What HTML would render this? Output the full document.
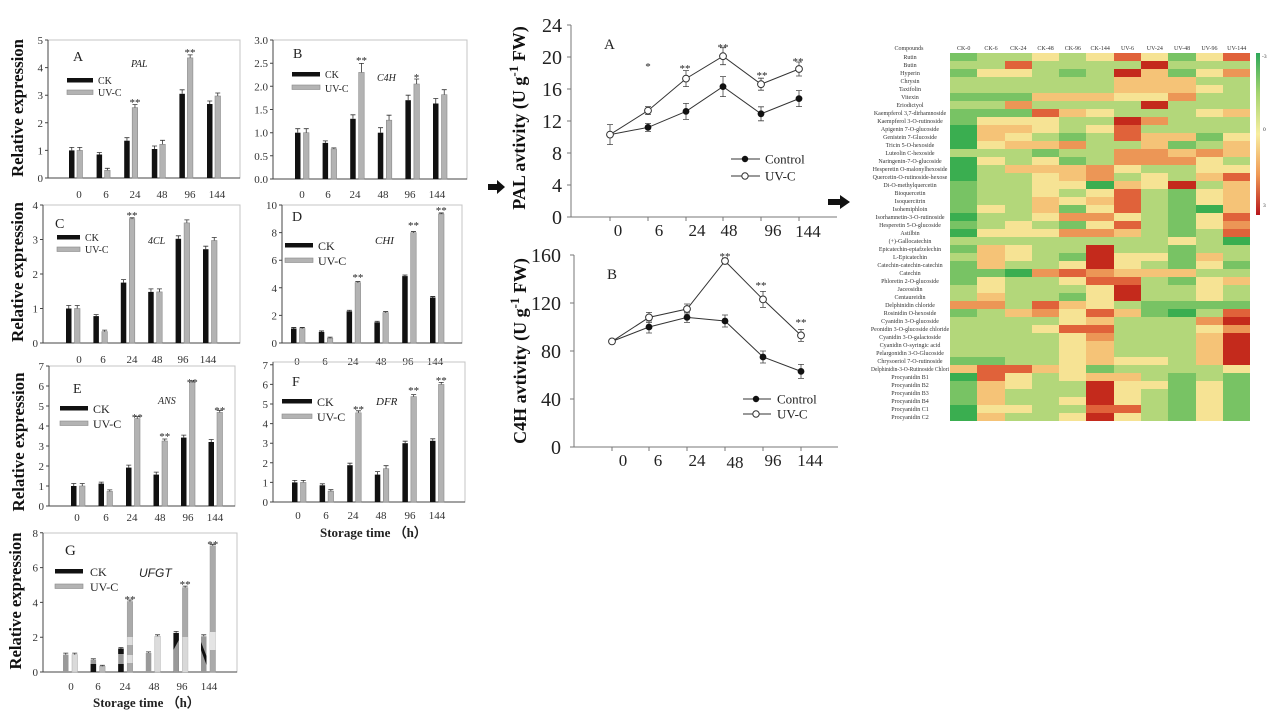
<!DOCTYPE html>
<html><head><meta charset="utf-8"><style>
html,body{margin:0;padding:0;background:#fff}
#w{position:relative;width:1268px;height:710px;overflow:hidden;background:#fff}
svg{position:absolute;left:0;top:0}
#hm{position:absolute;left:950px;top:53px;display:grid;grid-template-columns:repeat(11,27.3px);grid-template-rows:repeat(46,8px)}
#hm i{display:block}
.G{background:#3aae50}.M{background:#78c364}.L{background:#b3d77a}.Y{background:#f6e394}.P{background:#f5c377}.O{background:#ec9656}.r{background:#e0623a}.d{background:#c42a1c}
</style></head><body><div id="w">
<div id="hm">
<i class=M></i><i class=L></i><i class=L></i><i class=Y></i><i class=L></i><i class=Y></i><i class=r></i><i class=Y></i><i class=M></i><i class=Y></i><i class=r></i>
<i class=L></i><i class=L></i><i class=r></i><i class=L></i><i class=L></i><i class=L></i><i class=L></i><i class=d></i><i class=L></i><i class=L></i><i class=L></i>
<i class=M></i><i class=Y></i><i class=Y></i><i class=L></i><i class=M></i><i class=L></i><i class=d></i><i class=P></i><i class=M></i><i class=Y></i><i class=O></i>
<i class=L></i><i class=L></i><i class=L></i><i class=L></i><i class=L></i><i class=L></i><i class=P></i><i class=P></i><i class=P></i><i class=L></i><i class=L></i>
<i class=L></i><i class=L></i><i class=L></i><i class=L></i><i class=L></i><i class=L></i><i class=P></i><i class=P></i><i class=P></i><i class=Y></i><i class=L></i>
<i class=M></i><i class=M></i><i class=M></i><i class=P></i><i class=P></i><i class=P></i><i class=Y></i><i class=Y></i><i class=O></i><i class=L></i><i class=L></i>
<i class=L></i><i class=L></i><i class=O></i><i class=L></i><i class=L></i><i class=L></i><i class=L></i><i class=d></i><i class=L></i><i class=L></i><i class=L></i>
<i class=M></i><i class=M></i><i class=M></i><i class=r></i><i class=P></i><i class=Y></i><i class=L></i><i class=L></i><i class=L></i><i class=Y></i><i class=P></i>
<i class=M></i><i class=Y></i><i class=Y></i><i class=Y></i><i class=L></i><i class=L></i><i class=d></i><i class=O></i><i class=L></i><i class=L></i><i class=L></i>
<i class=G></i><i class=P></i><i class=P></i><i class=Y></i><i class=L></i><i class=Y></i><i class=r></i><i class=L></i><i class=L></i><i class=L></i><i class=L></i>
<i class=G></i><i class=P></i><i class=Y></i><i class=L></i><i class=M></i><i class=L></i><i class=r></i><i class=P></i><i class=P></i><i class=M></i><i class=Y></i>
<i class=G></i><i class=Y></i><i class=P></i><i class=P></i><i class=O></i><i class=L></i><i class=L></i><i class=P></i><i class=M></i><i class=L></i><i class=P></i>
<i class=L></i><i class=L></i><i class=L></i><i class=M></i><i class=L></i><i class=L></i><i class=O></i><i class=O></i><i class=P></i><i class=O></i><i class=P></i>
<i class=G></i><i class=Y></i><i class=L></i><i class=Y></i><i class=M></i><i class=L></i><i class=O></i><i class=O></i><i class=O></i><i class=Y></i><i class=L></i>
<i class=G></i><i class=L></i><i class=P></i><i class=P></i><i class=P></i><i class=O></i><i class=Y></i><i class=L></i><i class=L></i><i class=Y></i><i class=Y></i>
<i class=G></i><i class=L></i><i class=L></i><i class=Y></i><i class=P></i><i class=O></i><i class=L></i><i class=Y></i><i class=L></i><i class=P></i><i class=r></i>
<i class=M></i><i class=L></i><i class=L></i><i class=Y></i><i class=Y></i><i class=G></i><i class=P></i><i class=Y></i><i class=d></i><i class=L></i><i class=P></i>
<i class=M></i><i class=L></i><i class=L></i><i class=Y></i><i class=L></i><i class=Y></i><i class=r></i><i class=L></i><i class=M></i><i class=Y></i><i class=P></i>
<i class=M></i><i class=L></i><i class=L></i><i class=P></i><i class=Y></i><i class=P></i><i class=r></i><i class=L></i><i class=M></i><i class=Y></i><i class=P></i>
<i class=M></i><i class=Y></i><i class=L></i><i class=P></i><i class=M></i><i class=Y></i><i class=r></i><i class=L></i><i class=M></i><i class=G></i><i class=P></i>
<i class=G></i><i class=L></i><i class=L></i><i class=Y></i><i class=O></i><i class=O></i><i class=Y></i><i class=L></i><i class=M></i><i class=Y></i><i class=r></i>
<i class=M></i><i class=L></i><i class=Y></i><i class=L></i><i class=M></i><i class=Y></i><i class=r></i><i class=L></i><i class=M></i><i class=Y></i><i class=O></i>
<i class=G></i><i class=Y></i><i class=Y></i><i class=Y></i><i class=O></i><i class=O></i><i class=P></i><i class=L></i><i class=M></i><i class=L></i><i class=r></i>
<i class=L></i><i class=L></i><i class=L></i><i class=L></i><i class=L></i><i class=L></i><i class=L></i><i class=L></i><i class=Y></i><i class=L></i><i class=G></i>
<i class=M></i><i class=P></i><i class=Y></i><i class=L></i><i class=L></i><i class=d></i><i class=L></i><i class=L></i><i class=M></i><i class=L></i><i class=L></i>
<i class=L></i><i class=P></i><i class=Y></i><i class=L></i><i class=M></i><i class=d></i><i class=Y></i><i class=Y></i><i class=M></i><i class=P></i><i class=L></i>
<i class=M></i><i class=P></i><i class=L></i><i class=L></i><i class=Y></i><i class=d></i><i class=Y></i><i class=L></i><i class=M></i><i class=Y></i><i class=M></i>
<i class=M></i><i class=M></i><i class=G></i><i class=O></i><i class=r></i><i class=O></i><i class=P></i><i class=P></i><i class=P></i><i class=L></i><i class=L></i>
<i class=M></i><i class=Y></i><i class=L></i><i class=L></i><i class=Y></i><i class=r></i><i class=r></i><i class=L></i><i class=M></i><i class=Y></i><i class=P></i>
<i class=L></i><i class=Y></i><i class=L></i><i class=L></i><i class=L></i><i class=Y></i><i class=d></i><i class=L></i><i class=L></i><i class=Y></i><i class=L></i>
<i class=L></i><i class=P></i><i class=L></i><i class=L></i><i class=M></i><i class=Y></i><i class=d></i><i class=L></i><i class=L></i><i class=Y></i><i class=L></i>
<i class=O></i><i class=O></i><i class=L></i><i class=r></i><i class=P></i><i class=Y></i><i class=L></i><i class=M></i><i class=M></i><i class=M></i><i class=M></i>
<i class=M></i><i class=L></i><i class=P></i><i class=O></i><i class=Y></i><i class=r></i><i class=P></i><i class=M></i><i class=G></i><i class=L></i><i class=r></i>
<i class=L></i><i class=L></i><i class=L></i><i class=L></i><i class=Y></i><i class=P></i><i class=L></i><i class=L></i><i class=L></i><i class=O></i><i class=d></i>
<i class=L></i><i class=L></i><i class=L></i><i class=Y></i><i class=r></i><i class=r></i><i class=L></i><i class=L></i><i class=L></i><i class=Y></i><i class=O></i>
<i class=L></i><i class=L></i><i class=L></i><i class=L></i><i class=Y></i><i class=O></i><i class=L></i><i class=L></i><i class=L></i><i class=P></i><i class=d></i>
<i class=L></i><i class=L></i><i class=L></i><i class=L></i><i class=Y></i><i class=P></i><i class=L></i><i class=L></i><i class=L></i><i class=P></i><i class=d></i>
<i class=L></i><i class=L></i><i class=L></i><i class=L></i><i class=Y></i><i class=P></i><i class=L></i><i class=L></i><i class=L></i><i class=P></i><i class=d></i>
<i class=M></i><i class=M></i><i class=L></i><i class=L></i><i class=Y></i><i class=P></i><i class=Y></i><i class=Y></i><i class=L></i><i class=P></i><i class=d></i>
<i class=P></i><i class=r></i><i class=r></i><i class=P></i><i class=Y></i><i class=M></i><i class=L></i><i class=L></i><i class=L></i><i class=L></i><i class=Y></i>
<i class=G></i><i class=r></i><i class=Y></i><i class=L></i><i class=Y></i><i class=P></i><i class=P></i><i class=L></i><i class=M></i><i class=L></i><i class=M></i>
<i class=M></i><i class=P></i><i class=Y></i><i class=L></i><i class=L></i><i class=d></i><i class=Y></i><i class=Y></i><i class=M></i><i class=Y></i><i class=M></i>
<i class=M></i><i class=P></i><i class=L></i><i class=L></i><i class=L></i><i class=d></i><i class=Y></i><i class=L></i><i class=M></i><i class=Y></i><i class=M></i>
<i class=M></i><i class=P></i><i class=L></i><i class=L></i><i class=Y></i><i class=d></i><i class=Y></i><i class=L></i><i class=M></i><i class=Y></i><i class=M></i>
<i class=G></i><i class=Y></i><i class=Y></i><i class=L></i><i class=L></i><i class=r></i><i class=r></i><i class=L></i><i class=M></i><i class=Y></i><i class=M></i>
<i class=G></i><i class=P></i><i class=L></i><i class=L></i><i class=Y></i><i class=d></i><i class=Y></i><i class=L></i><i class=M></i><i class=Y></i><i class=M></i>
</div>
<svg width="1268" height="710" viewBox="0 0 1268 710" font-family="'Liberation Serif',serif" fill="#222">
<defs><linearGradient id="cb" x1="0" y1="0" x2="0" y2="1"><stop offset="0" stop-color="#2ea85a"/><stop offset=".25" stop-color="#a6d570"/><stop offset=".5" stop-color="#f8eea0"/><stop offset=".75" stop-color="#f09a55"/><stop offset="1" stop-color="#b8161c"/></linearGradient></defs>

<!-- ===== Panel A ===== -->
<rect x="48" y="40" width="192" height="138" fill="none" stroke="#c4c4c4"/>
<path d="M48 40V178H240M45 178h3M45 150.4h3M45 122.8h3M45 95.2h3M45 67.6h3M45 40h3" stroke="#444" fill="none"/>
<g font-size="11" text-anchor="end" fill="#333"><text x="43" y="182">0</text><text x="43" y="154.4">1</text><text x="43" y="126.8">2</text><text x="43" y="99.2">3</text><text x="43" y="71.6">4</text><text x="43" y="44">5</text></g>
<g font-size="11" text-anchor="middle" fill="#333"><text x="79" y="198">0</text><text x="106" y="198">6</text><text x="135" y="198">24</text><text x="162" y="198">48</text><text x="190" y="198">96</text><text x="217" y="198">144</text></g>
<g fill="#111"><rect x="69" y="150.4" width="5.5" height="27.6"/><rect x="96.6" y="154.5" width="5.5" height="23.5"/><rect x="124.2" y="140.7" width="5.5" height="37.3"/><rect x="151.8" y="149" width="5.5" height="29"/><rect x="179.4" y="93.8" width="5.5" height="84.2"/><rect x="207" y="104" width="5.5" height="74"/></g>
<g fill="#b3b3b3" stroke="#8a8a8a" stroke-width=".6"><rect x="77" y="150.4" width="5.5" height="27.6"/><rect x="104.6" y="170.3" width="5.5" height="7.7"/><rect x="132.2" y="107.6" width="5.5" height="70.4"/><rect x="159.8" y="144.3" width="5.5" height="33.7"/><rect x="187.4" y="57.9" width="5.5" height="120.1"/><rect x="215" y="96" width="5.5" height="82"/></g>
<path d="M71.75 150.4v-3m-2.5 0h5M99.35 154.5v-2m-2.5 0h5M126.95 140.7v-3m-2.5 0h5M154.55 149v-3m-2.5 0h5M182.15 93.8v-4m-2.5 0h5M209.75 104v-3m-2.5 0h5M79.75 150.4v-3m-2.5 0h5M107.35 170.3v-2m-2.5 0h5M134.95 107.6v-3m-2.5 0h5M162.55 144.3v-4m-2.5 0h5M190.15 57.9v-3m-2.5 0h5M217.75 96v-3m-2.5 0h5" stroke="#333" stroke-width=".8" fill="none"/>
<g font-size="11" text-anchor="middle"><text x="135" y="106">**</text><text x="190" y="56">**</text></g>
<rect x="67" y="78" width="26" height="4.5" fill="#111"/><rect x="67" y="90" width="26" height="4.5" fill="#b3b3b3" stroke="#888" stroke-width=".6"/>
<text x="98" y="84" font-size="10">CK</text><text x="98" y="96" font-size="10">UV-C</text>
<text x="131" y="67" font-size="10" font-style="italic">PAL</text><text x="73" y="61" font-size="14">A</text>

<!-- ===== Panel B ===== -->
<rect x="273" y="40" width="194" height="139" fill="none" stroke="#c4c4c4"/>
<path d="M273 40V179H467M270 179h3M270 155.8h3M270 132.7h3M270 109.5h3M270 86.3h3M270 63.2h3M270 40h3" stroke="#444" fill="none"/>
<g font-size="11" text-anchor="end" fill="#333"><text x="268" y="183">0.0</text><text x="268" y="159.8">0.5</text><text x="268" y="136.7">1.0</text><text x="268" y="113.5">1.5</text><text x="268" y="90.3">2.0</text><text x="268" y="67.2">2.5</text><text x="268" y="44">3.0</text></g>
<g font-size="11" text-anchor="middle" fill="#333"><text x="302" y="198">0</text><text x="328" y="198">6</text><text x="355" y="198">24</text><text x="383" y="198">48</text><text x="410" y="198">96</text><text x="437" y="198">144</text></g>
<g fill="#111"><rect x="295" y="132.7" width="5.5" height="46.3"/><rect x="322.6" y="142.9" width="5.5" height="36.1"/><rect x="350.2" y="118.8" width="5.5" height="60.2"/><rect x="377.8" y="132.7" width="5.5" height="46.3"/><rect x="405.4" y="100.2" width="5.5" height="78.8"/><rect x="433" y="103.5" width="5.5" height="75.5"/></g>
<g fill="#b3b3b3" stroke="#8a8a8a" stroke-width=".6"><rect x="303.5" y="132.7" width="5.5" height="46.3"/><rect x="331.1" y="148.9" width="5.5" height="30.1"/><rect x="358.7" y="72.4" width="5.5" height="106.6"/><rect x="386.3" y="120.2" width="5.5" height="58.8"/><rect x="413.9" y="84" width="5.5" height="95"/><rect x="441.5" y="94.7" width="5.5" height="84.3"/></g>
<path d="M297.75 132.7v-4m-2.5 0h5M325.35 142.9v-2m-2.5 0h5M352.95 118.8v-4m-2.5 0h5M380.55 132.7v-5m-2.5 0h5M408.15 100.2v-5m-2.5 0h5M435.75 103.5v-5m-2.5 0h5M306.25 132.7v-4m-2.5 0h5M333.85 148.9v-1m-2.5 0h5M361.45 72.4v-9m-2.5 0h5M389.05 120.2v-5m-2.5 0h5M416.65 84v-5m-2.5 0h5M444.25 94.7v-5m-2.5 0h5" stroke="#333" stroke-width=".8" fill="none"/>
<g font-size="11" text-anchor="middle"><text x="361.5" y="64">**</text><text x="416.5" y="81">*</text></g>
<rect x="292" y="72" width="28" height="4.5" fill="#111"/><rect x="292" y="85" width="28" height="4.5" fill="#b3b3b3" stroke="#888" stroke-width=".6"/>
<text x="325" y="78" font-size="10">CK</text><text x="325" y="92" font-size="10">UV-C</text>
<text x="377" y="81" font-size="10" font-style="italic">C4H</text><text x="293" y="58" font-size="14">B</text>

<!-- ===== Panel C ===== -->
<rect x="43" y="205" width="197" height="138" fill="none" stroke="#c4c4c4"/>
<path d="M43 205V343H240M40 343h3M40 308.5h3M40 274h3M40 239.5h3M40 205h3" stroke="#444" fill="none"/>
<g font-size="11" text-anchor="end" fill="#333"><text x="38" y="347">0</text><text x="38" y="312.5">1</text><text x="38" y="278">2</text><text x="38" y="243.5">3</text><text x="38" y="209">4</text></g>
<g font-size="11" text-anchor="middle" fill="#333"><text x="79" y="363">0</text><text x="103" y="363">6</text><text x="132" y="363">24</text><text x="157" y="363">48</text><text x="183" y="363">96</text><text x="208" y="363">144</text></g>
<g fill="#111"><rect x="66" y="308.5" width="5.5" height="34.5"/><rect x="93.4" y="316.1" width="5.5" height="26.9"/><rect x="120.8" y="282.6" width="5.5" height="60.4"/><rect x="148.2" y="291.9" width="5.5" height="51.1"/><rect x="175.6" y="238.8" width="5.5" height="104.2"/><rect x="203" y="249.2" width="5.5" height="93.8"/></g>
<g fill="#b3b3b3" stroke="#8a8a8a" stroke-width=".6"><rect x="74.5" y="308.5" width="5.5" height="34.5"/><rect x="101.9" y="331.6" width="5.5" height="11.4"/><rect x="129.3" y="218.8" width="5.5" height="124.2"/><rect x="156.7" y="291.9" width="5.5" height="51.1"/><rect x="184.1" y="222.9" width="5.5" height="120.1"/><rect x="211.5" y="240.5" width="5.5" height="102.5"/></g>
<path d="M68.75 308.5v-3m-2.5 0h5M96.15 316.1v-1.5m-2.5 0h5M123.55 282.6v-3m-2.5 0h5M150.95 291.9v-3m-2.5 0h5M178.35 238.8v-3m-2.5 0h5M205.75 249.2v-3m-2.5 0h5M77.25 308.5v-3m-2.5 0h5M104.65 331.6v-1.5m-2.5 0h5M132.05 218.8v-1m-2.5 0h5M159.45 291.9v-3m-2.5 0h5M186.85 222.9v-3m-2.5 0h5M214.25 240.5v-3m-2.5 0h5" stroke="#333" stroke-width=".8" fill="none"/>
<text x="132" y="219" font-size="11" text-anchor="middle">**</text>
<rect x="57" y="235" width="23" height="4.5" fill="#111"/><rect x="57" y="247" width="23" height="4.5" fill="#b3b3b3" stroke="#888" stroke-width=".6"/>
<text x="85" y="241" font-size="10">CK</text><text x="85" y="253" font-size="10">UV-C</text>
<text x="148" y="244" font-size="10" font-style="italic">4CL</text><text x="55" y="228" font-size="14">C</text>

<!-- ===== Panel D ===== -->
<rect x="282" y="205" width="180" height="138" fill="none" stroke="#c4c4c4"/>
<path d="M282 205V343H462M279 343h3M279 315.4h3M279 287.8h3M279 260.2h3M279 232.6h3M279 205h3" stroke="#444" fill="none"/>
<g font-size="11" text-anchor="end" fill="#333"><text x="277" y="347">0</text><text x="277" y="319.4">2</text><text x="277" y="291.8">4</text><text x="277" y="264.2">6</text><text x="277" y="236.6">8</text><text x="277" y="209">10</text></g>
<g font-size="11" text-anchor="middle" fill="#333"><text x="297" y="365">0</text><text x="325" y="365">6</text><text x="353" y="365">24</text><text x="381" y="365">48</text><text x="408" y="365">96</text><text x="435" y="365">144</text></g>
<g fill="#111"><rect x="291" y="328.5" width="5.5" height="14.5"/><rect x="318.8" y="332" width="5.5" height="11"/><rect x="346.6" y="311.3" width="5.5" height="31.7"/><rect x="374.4" y="322.3" width="5.5" height="20.7"/><rect x="402.2" y="276.1" width="5.5" height="66.9"/><rect x="430" y="297.5" width="5.5" height="45.5"/></g>
<g fill="#b3b3b3" stroke="#8a8a8a" stroke-width=".6"><rect x="299.5" y="328.5" width="5.5" height="14.5"/><rect x="327.3" y="338.2" width="5.5" height="4.8"/><rect x="355.1" y="282.6" width="5.5" height="60.4"/><rect x="382.9" y="312.6" width="5.5" height="30.4"/><rect x="410.7" y="232.6" width="5.5" height="110.4"/><rect x="438.5" y="214" width="5.5" height="129"/></g>
<path d="M293.75 328.5v-1m-2.5 0h5M321.55 332v-1m-2.5 0h5M349.35 311.3v-1m-2.5 0h5M377.15 322.3v-1m-2.5 0h5M404.95 276.1v-1m-2.5 0h5M432.75 297.5v-1m-2.5 0h5M302.25 328.5v-1m-2.5 0h5M330.05 338.2v-1m-2.5 0h5M357.85 282.6v-1m-2.5 0h5M385.65 312.6v-1m-2.5 0h5M413.45 232.6v-1m-2.5 0h5M441.25 214v-1m-2.5 0h5" stroke="#333" stroke-width=".9" fill="none"/>
<g font-size="11" text-anchor="middle"><text x="357.9" y="281">**</text><text x="413.5" y="229">**</text><text x="441.3" y="214">**</text></g>
<rect x="285" y="243" width="28" height="4.5" fill="#111"/><rect x="285" y="258" width="28" height="4.5" fill="#b3b3b3" stroke="#888" stroke-width=".6"/>
<text x="318" y="250" font-size="12">CK</text><text x="318" y="265" font-size="12">UV-C</text>
<text x="375" y="244" font-size="11" font-style="italic">CHI</text><text x="292" y="221" font-size="14">D</text>

<!-- ===== Panel E ===== -->
<rect x="49" y="366" width="186" height="140" fill="none" stroke="#c4c4c4"/>
<path d="M49 366V506H235M46 506h3M46 486h3M46 466h3M46 446h3M46 426h3M46 406h3M46 386h3M46 366h3" stroke="#444" fill="none"/>
<g font-size="11" text-anchor="end" fill="#333"><text x="44" y="510">0</text><text x="44" y="490">1</text><text x="44" y="470">2</text><text x="44" y="450">3</text><text x="44" y="430">4</text><text x="44" y="410">5</text><text x="44" y="390">6</text><text x="44" y="370">7</text></g>
<g font-size="11" text-anchor="middle" fill="#333"><text x="77" y="521">0</text><text x="106" y="521">6</text><text x="132" y="521">24</text><text x="160" y="521">48</text><text x="188" y="521">96</text><text x="215" y="521">144</text></g>
<g fill="#111"><rect x="71" y="486" width="5.5" height="20"/><rect x="98.5" y="483.6" width="5.5" height="22.4"/><rect x="126" y="467.6" width="5.5" height="38.4"/><rect x="153.5" y="474.6" width="5.5" height="31.4"/><rect x="181" y="437.6" width="5.5" height="68.4"/><rect x="208.5" y="442" width="5.5" height="64"/></g>
<g fill="#b3b3b3" stroke="#8a8a8a" stroke-width=".6"><rect x="79.5" y="486" width="5.5" height="20"/><rect x="107" y="491.4" width="5.5" height="14.6"/><rect x="134.5" y="418.6" width="5.5" height="87.4"/><rect x="162" y="441" width="5.5" height="65"/><rect x="189.5" y="382.4" width="5.5" height="123.6"/><rect x="217" y="412.4" width="5.5" height="93.6"/></g>
<path d="M73.75 486v-2.5m-2.5 0h5M101.25 483.6v-1.5m-2.5 0h5M128.75 467.6v-2.5m-2.5 0h5M156.25 474.6v-2.5m-2.5 0h5M183.75 437.6v-2.5m-2.5 0h5M211.25 442v-2.5m-2.5 0h5M82.25 486v-2.5m-2.5 0h5M109.75 491.4v-1.5m-2.5 0h5M137.25 418.6v-2m-2.5 0h5M164.75 441v-2m-2.5 0h5M192.25 382.4v-1.5m-2.5 0h5M219.75 412.4v-2m-2.5 0h5" stroke="#333" stroke-width=".8" fill="none"/>
<g font-size="11" text-anchor="middle"><text x="137.25" y="421">**</text><text x="164.75" y="440">**</text><text x="192.25" y="386">**</text><text x="219.75" y="414">**</text></g>
<rect x="60" y="406" width="28" height="4.5" fill="#111"/><rect x="60" y="421" width="28" height="4.5" fill="#b3b3b3" stroke="#888" stroke-width=".6"/>
<text x="93" y="413" font-size="12">CK</text><text x="93" y="428" font-size="12">UV-C</text>
<text x="158" y="404" font-size="10" font-style="italic">ANS</text><text x="73" y="393" font-size="14">E</text>

<!-- ===== Panel F ===== -->
<rect x="273" y="362" width="192" height="140" fill="none" stroke="#c4c4c4"/>
<path d="M273 362V502H465M270 502h3M270 482.4h3M270 462.8h3M270 443.2h3M270 423.6h3M270 404h3M270 384.4h3M270 364.8h3" stroke="#444" fill="none"/>
<g font-size="11" text-anchor="end" fill="#333"><text x="268" y="506">0</text><text x="268" y="486.4">1</text><text x="268" y="466.8">2</text><text x="268" y="447.2">3</text><text x="268" y="427.6">4</text><text x="268" y="408">5</text><text x="268" y="388.4">6</text><text x="268" y="368.8">7</text></g>
<g font-size="11" text-anchor="middle" fill="#333"><text x="298" y="519">0</text><text x="326" y="519">6</text><text x="353" y="519">24</text><text x="381" y="519">48</text><text x="410" y="519">96</text><text x="437" y="519">144</text></g>
<text x="320" y="537" font-size="13" font-weight="bold">Storage time （h）</text>
<g fill="#111"><rect x="292" y="482.4" width="5.5" height="19.6"/><rect x="319.6" y="485.3" width="5.5" height="16.7"/><rect x="347.2" y="465.2" width="5.5" height="36.8"/><rect x="374.8" y="474.6" width="5.5" height="27.4"/><rect x="402.4" y="443.2" width="5.5" height="58.8"/><rect x="430" y="440.8" width="5.5" height="61.2"/></g>
<g fill="#b3b3b3" stroke="#8a8a8a" stroke-width=".6"><rect x="300.5" y="482.4" width="5.5" height="19.6"/><rect x="328.1" y="491.2" width="5.5" height="10.8"/><rect x="355.7" y="412.8" width="5.5" height="89.2"/><rect x="383.3" y="468.7" width="5.5" height="33.3"/><rect x="410.9" y="396.6" width="5.5" height="105.4"/><rect x="438.5" y="384.4" width="5.5" height="117.6"/></g>
<path d="M294.75 482.4v-2m-2.5 0h5M322.35 485.3v-1.5m-2.5 0h5M349.95 465.2v-2m-2.5 0h5M377.55 474.6v-3m-2.5 0h5M405.15 443.2v-2m-2.5 0h5M432.75 440.8v-2m-2.5 0h5M303.25 482.4v-2m-2.5 0h5M330.85 491.2v-1.5m-2.5 0h5M358.45 412.8v-2m-2.5 0h5M386.05 468.7v-3m-2.5 0h5M413.65 396.6v-2m-2.5 0h5M441.25 384.4v-2m-2.5 0h5" stroke="#333" stroke-width=".8" fill="none"/>
<g font-size="11" text-anchor="middle"><text x="358.45" y="413">**</text><text x="413.65" y="394">**</text><text x="441.25" y="384">**</text></g>
<rect x="282" y="399" width="30" height="4.5" fill="#111"/><rect x="282" y="414" width="30" height="4.5" fill="#b3b3b3" stroke="#888" stroke-width=".6"/>
<text x="317" y="406" font-size="12">CK</text><text x="317" y="421" font-size="12">UV-C</text>
<text x="376" y="405" font-size="11" font-style="italic">DFR</text><text x="292" y="386" font-size="14">F</text>

<!-- ===== Panel G ===== -->
<rect x="43" y="533" width="194" height="139" fill="none" stroke="#c4c4c4"/>
<path d="M43 533V672H237M40 672h3M40 637.2h3M40 602.4h3M40 567.6h3M40 532.8h3" stroke="#444" fill="none"/>
<g font-size="11" text-anchor="end" fill="#333"><text x="38" y="676">0</text><text x="38" y="641.2">2</text><text x="38" y="606.4">4</text><text x="38" y="571.6">6</text><text x="38" y="536.8">8</text></g>
<g font-size="11" text-anchor="middle" fill="#333"><text x="71" y="690">0</text><text x="98" y="690">6</text><text x="125" y="690">24</text><text x="154" y="690">48</text><text x="182" y="690">96</text><text x="209" y="690">144</text></g>
<text x="93" y="707" font-size="13" font-weight="bold">Storage time （h）</text>
<rect x="63" y="654.6" width="5.5" height="17.4" fill="#9a9a9a"/>
<rect x="90.6" y="659.8" width="5.5" height="12.2" fill="#999"/><rect x="90.6" y="664" width="5.5" height="8" fill="#111"/>
<rect x="118.2" y="648.5" width="5.5" height="23.5" fill="#999"/><rect x="118.2" y="648.5" width="5.5" height="5.5" fill="#111"/><rect x="118.2" y="664" width="5.5" height="8" fill="#111"/>
<rect x="145.8" y="652.9" width="5.5" height="19.1" fill="#9a9a9a"/>
<rect x="173.4" y="632.9" width="5.5" height="39.1" fill="#111"/><polygon points="173.4,650 178.9,640 178.9,672 173.4,672" fill="#999"/>
<rect x="201" y="636.3" width="5.5" height="35.7" fill="#999"/><polygon points="201,642 206.5,656 206.5,665 201,650" fill="#111"/>
<rect x="72" y="654.6" width="5.5" height="17.4" fill="#dadada" stroke="#aaa" stroke-width=".5"/>
<rect x="99.6" y="666.3" width="5.5" height="5.7" fill="#bbb" stroke="#999" stroke-width=".5"/>
<rect x="127.2" y="601.5" width="5.5" height="70.5" fill="#aaa" stroke="#999" stroke-width=".5"/><rect x="127.2" y="637" width="5.5" height="8" fill="#ddd"/><rect x="127.2" y="655" width="5.5" height="8" fill="#ddd"/>
<rect x="154.8" y="636.3" width="5.5" height="35.7" fill="#dcdcdc" stroke="#aaa" stroke-width=".5"/>
<rect x="182.4" y="587.6" width="5.5" height="84.4" fill="#aaa" stroke="#999" stroke-width=".5"/><rect x="182.4" y="637" width="5.5" height="35" fill="#d8d8d8"/>
<rect x="210" y="545.8" width="5.5" height="126.2" fill="#aaa" stroke="#999" stroke-width=".5"/><rect x="210" y="632" width="5.5" height="18" fill="#e4e4e4"/>
<path d="M65.75 654.6v-1.5m-2.5 0h5M93.35 659.8v-1m-2.5 0h5M120.95 648.5v-1m-2.5 0h5M148.55 652.9v-1m-2.5 0h5M176.15 632.9v-1.5m-2.5 0h5M203.75 636.3v-1.5m-2.5 0h5M74.75 654.6v-1.5m-2.5 0h5M102.35 666.3v-1m-2.5 0h5M129.95 601.5v-1.5m-2.5 0h5M157.55 636.3v-1.5m-2.5 0h5M185.15 587.6v-1.5m-2.5 0h5M212.75 545.8v-1.5m-2.5 0h5" stroke="#333" stroke-width=".8" fill="none"/>
<g font-size="11" text-anchor="middle"><text x="129.95" y="603">**</text><text x="185.15" y="588">**</text><text x="212.75" y="548">**</text></g>
<rect x="55" y="569" width="28" height="4.5" fill="#111"/><rect x="55" y="584" width="28" height="4.5" fill="#b3b3b3" stroke="#888" stroke-width=".6"/>
<text x="90" y="576" font-size="12">CK</text><text x="90" y="591" font-size="12">UV-C</text>
<text x="139" y="577" font-size="12" font-style="italic" font-family="'Liberation Sans',sans-serif">UFGT</text><text x="65" y="555" font-size="15">G</text>

<!-- Y labels (Relative expression) -->
<g font-size="17" font-weight="bold" text-anchor="middle" fill="#111">
<text transform="translate(23,108) rotate(-90)" textLength="138" lengthAdjust="spacingAndGlyphs">Relative expression</text>
<text transform="translate(23,272) rotate(-90)" textLength="140" lengthAdjust="spacingAndGlyphs">Relative expression</text>
<text transform="translate(24,442) rotate(-90)" textLength="139" lengthAdjust="spacingAndGlyphs">Relative expression</text>
<text transform="translate(21,601) rotate(-90)" textLength="137" lengthAdjust="spacingAndGlyphs">Relative expression</text>
</g>

<!-- ===== PAL line chart ===== -->
<path d="M571 25V217H837M567 217h4M567 185h4M567 153h4M567 121h4M567 89h4M567 57h4M567 25h4M610 217v4M648 217v4M686 217v4M723 217v4M761 217v4M799 217v4" stroke="#777" fill="none"/>
<g font-size="20" text-anchor="end" fill="#222"><text x="562" y="224">0</text><text x="562" y="192">4</text><text x="562" y="160">8</text><text x="562" y="128">12</text><text x="562" y="96">16</text><text x="562" y="64">20</text><text x="562" y="32">24</text></g>
<g font-size="17" text-anchor="middle" fill="#222"><text x="618" y="236">0</text><text x="659" y="236">6</text><text x="697" y="236">24</text><text x="729" y="236">48</text><text x="773" y="236">96</text><text x="808" y="237">144</text></g>
<path d="M610 124.6v20m-3 0h6m-6-20h6M648 123.4v8m-3 0h6m-6-8h6M686 103.4v16m-3 0h6m-6-16h6M723 76.6v20m-3 0h6m-6-20h6M761 106.8v14m-3 0h6m-6-14h6M799 90.6v16m-3 0h6m-6-16h6M648 106.6v8m-3 0h6m-6-8h6M686 70.6v16m-3 0h6m-6-16h6M723 47.7v17m-3 0h6m-6-17h6M761 78.2v12m-3 0h6m-6-12h6M799 62v14m-3 0h6m-6-14h6" stroke="#444" stroke-width=".8" fill="none"/>
<polyline points="610,134.6 648,127.4 686,111.4 723,86.6 761,113.8 799,98.6" fill="none" stroke="#333" stroke-width="1"/>
<polyline points="610,134.6 648,110.6 686,78.6 723,56.2 761,84.2 799,69" fill="none" stroke="#333" stroke-width="1"/>
<g fill="#111"><circle cx="648" cy="127.4" r="3.4"/><circle cx="686" cy="111.4" r="3.4"/><circle cx="723" cy="86.6" r="3.4"/><circle cx="761" cy="113.8" r="3.4"/><circle cx="799" cy="98.6" r="3.4"/></g>
<g fill="#fff" stroke="#333" stroke-width="1"><circle cx="610" cy="134.6" r="3.4"/><circle cx="648" cy="110.6" r="3.4"/><circle cx="686" cy="78.6" r="3.4"/><circle cx="723" cy="56.2" r="3.4"/><circle cx="761" cy="84.2" r="3.4"/><circle cx="799" cy="69" r="3.4"/></g>
<g font-size="11" text-anchor="middle"><text x="648" y="70">*</text><text x="685" y="72">**</text><text x="723" y="51">**</text><text x="762" y="79">**</text><text x="798" y="65">**</text></g>
<text x="604" y="49" font-size="15">A</text>
<path d="M731 159h29M731 176h29" stroke="#333"/><circle cx="745" cy="159" r="3.2" fill="#111"/><circle cx="745" cy="176" r="3.2" fill="#fff" stroke="#333"/>
<text x="765" y="163.5" font-size="13">Control</text><text x="765" y="180.5" font-size="13">UV-C</text>
<text transform="translate(525,118) rotate(-90)" text-anchor="middle" font-size="18" font-weight="bold" fill="#111">PAL avtivity (U g<tspan dy="-7" font-size="13">-1</tspan><tspan dy="7"> FW)</tspan></text>

<!-- ===== C4H line chart ===== -->
<path d="M574 255V447H838M570 447h4M570 399h4M570 351h4M570 303h4M570 255h4M612 447v4M649 447v4M687 447v4M725 447v4M763 447v4M801 447v4" stroke="#777" fill="none"/>
<g font-size="20" text-anchor="end" fill="#222"><text x="561" y="454">0</text><text x="561" y="406">40</text><text x="561" y="358">80</text><text x="561" y="310">120</text><text x="561" y="262">160</text></g>
<g font-size="17" text-anchor="middle" fill="#222"><text x="623" y="466">0</text><text x="658" y="466">6</text><text x="697" y="466">24</text><text x="735" y="468">48</text><text x="773" y="466">96</text><text x="810" y="466">144</text></g>
<path d="M649 321v12m-3 0h6m-6-12h6M687 312.4v10m-3 0h6m-6-10h6M725 315v12m-3 0h6m-6-12h6M763 351v12m-3 0h6m-6-12h6M801 364.4v14m-3 0h6m-6-14h6M649 312.4v10m-3 0h6m-6-10h6M687 304v10m-3 0h6m-6-10h6M725 258v6m-3 0h6m-6-6h6M763 291.4v16m-3 0h6m-6-16h6M801 329.4v12m-3 0h6m-6-12h6" stroke="#444" stroke-width=".8" fill="none"/>
<polyline points="612,341.4 649,327 687,317.4 725,321 763,357 801,371.4" fill="none" stroke="#333" stroke-width="1"/>
<polyline points="612,341.4 649,317.4 687,309 725,261 763,299.4 801,335.4" fill="none" stroke="#333" stroke-width="1"/>
<g fill="#111"><circle cx="649" cy="327" r="3.4"/><circle cx="687" cy="317.4" r="3.4"/><circle cx="725" cy="321" r="3.4"/><circle cx="763" cy="357" r="3.4"/><circle cx="801" cy="371.4" r="3.4"/></g>
<g fill="#fff" stroke="#333" stroke-width="1"><circle cx="612" cy="341.4" r="3.4"/><circle cx="649" cy="317.4" r="3.4"/><circle cx="687" cy="309" r="3.4"/><circle cx="725" cy="261" r="3.4"/><circle cx="763" cy="299.4" r="3.4"/><circle cx="801" cy="335.4" r="3.4"/></g>
<g font-size="11" text-anchor="middle"><text x="725" y="260">**</text><text x="761" y="289">**</text><text x="801" y="326">**</text></g>
<text x="607" y="279" font-size="15">B</text>
<path d="M743 399h28M743 414h28" stroke="#333"/><circle cx="756" cy="399" r="3.2" fill="#111"/><circle cx="756" cy="414" r="3.2" fill="#fff" stroke="#333"/>
<text x="777" y="403.5" font-size="13">Control</text><text x="777" y="418.5" font-size="13">UV-C</text>
<text transform="translate(526,351) rotate(-90)" text-anchor="middle" font-size="18" font-weight="bold" fill="#111">C4H avtivity (U g<tspan dy="-7" font-size="13">-1</tspan><tspan dy="7"> FW)</tspan></text>

<!-- arrows -->
<polygon points="488,184 497,184 497,180 505,187 497,194 497,190 488,190" fill="#111"/>
<polygon points="828,199 840,199 840,195 850,202 840,209 840,205 828,205" fill="#111"/>

<!-- ===== Heatmap labels ===== -->
<g font-size="6" text-anchor="middle" fill="#333">
<text x="909" y="50">Compounds</text>
<text x="963.7" y="50">CK-0</text><text x="991" y="50">CK-6</text><text x="1018.3" y="50">CK-24</text><text x="1045.6" y="50">CK-48</text><text x="1072.9" y="50">CK-96</text><text x="1100.2" y="50">CK-144</text><text x="1127.5" y="50">UV-6</text><text x="1154.8" y="50">UV-24</text><text x="1182.1" y="50">UV-48</text><text x="1209.4" y="50">UV-96</text><text x="1236.7" y="50">UV-144</text>
<text x="910" y="59">Rutin</text>
<text x="910" y="67">Butin</text>
<text x="910" y="75">Hyperin</text>
<text x="910" y="83">Chrysin</text>
<text x="910" y="91">Taxifolin</text>
<text x="910" y="99">Vitexin</text>
<text x="910" y="107">Eriodictyol</text>
<text x="910" y="115">Kaempferol 3,7-dirhamnoside</text>
<text x="910" y="123">Kaempferol 3-O-rutinoside</text>
<text x="910" y="131">Apigenin 7-O-glucoside</text>
<text x="910" y="139">Genistein 7-Glucoside</text>
<text x="910" y="147">Tricin 5-O-hexoside</text>
<text x="910" y="155">Luteolin C-hexoside</text>
<text x="910" y="163">Naringenin-7-O-glucoside</text>
<text x="910" y="171">Hesperetin O-malonylhexoside</text>
<text x="910" y="179">Quercetin-O-rutinoside-hexose</text>
<text x="910" y="187">Di-O-methylquercetin</text>
<text x="910" y="195">Bioquercetin</text>
<text x="910" y="203">Isoquercitrin</text>
<text x="910" y="211">Isohemiphloin</text>
<text x="910" y="219">Isorhamnetin-3-O-rutinoside</text>
<text x="910" y="227">Hesperetin 5-O-glucoside</text>
<text x="910" y="235">Astilbin</text>
<text x="910" y="243">(+)-Gallocatechin</text>
<text x="910" y="251">Epicatechin-epiafzelechin</text>
<text x="910" y="259">L-Epicatechin</text>
<text x="910" y="267">Catechin-catechin-catechin</text>
<text x="910" y="275">Catechin</text>
<text x="910" y="283">Phloretin 2-O-glucoside</text>
<text x="910" y="291">Jaceosidin</text>
<text x="910" y="299">Centaureidin</text>
<text x="910" y="307">Delphinidin chloride</text>
<text x="910" y="315">Rosinidin O-hexoside</text>
<text x="910" y="323">Cyanidin 3-O-glucoside</text>
<text x="910" y="331">Peonidin 3-O-glucoside chloride</text>
<text x="910" y="339">Cyanidin 3-O-galactoside</text>
<text x="910" y="347">Cyanidin O-syringic acid</text>
<text x="910" y="355">Pelargonidin 3-O-Glucoside</text>
<text x="910" y="363">Chrysoeriol 7-O-rutinoside</text>
<text x="910" y="371" textLength="78" lengthAdjust="spacingAndGlyphs">Delphinidin-3-O-Rutinoside Chlori</text>
<text x="910" y="379">Procyanidin B1</text>
<text x="910" y="387">Procyanidin B2</text>
<text x="910" y="395">Procyanidin B3</text>
<text x="910" y="403">Procyanidin B4</text>
<text x="910" y="411">Procyanidin C1</text>
<text x="910" y="419">Procyanidin C2</text>
</g>
<rect x="1256" y="53" width="4" height="162" fill="url(#cb)"/>
<g font-size="5.5" fill="#333"><text x="1262" y="58">-3</text><text x="1263" y="131">0</text><text x="1263" y="207">3</text></g>
</svg>
</div></body></html>
